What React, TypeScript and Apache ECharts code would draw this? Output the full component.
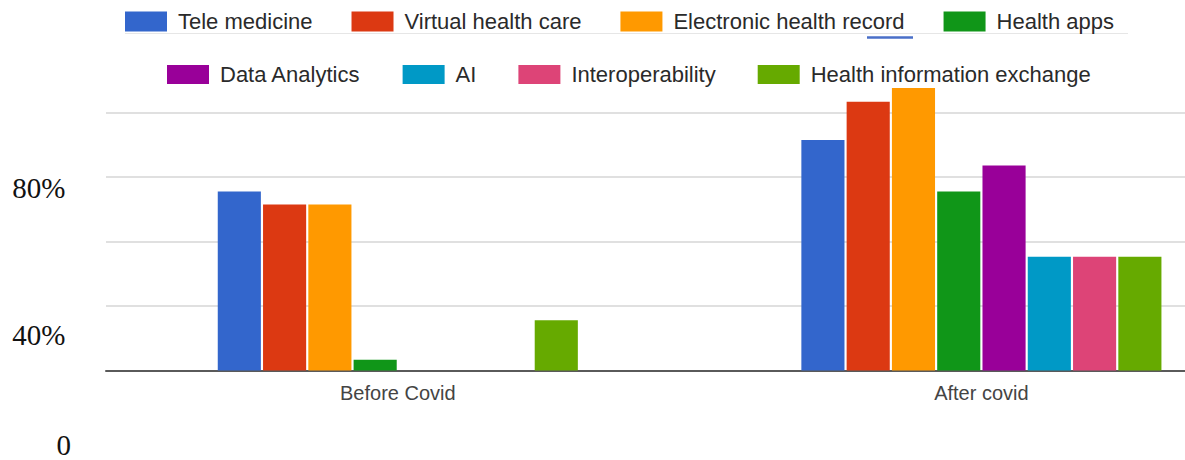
import React, { useEffect, useRef } from "react";
import * as echarts from "echarts";

// Survey shares of digital-health adoption, before and after Covid
const categories = ["Before Covid", "After covid"];

const teleMedicine = [55.5, 71.5];
const virtualHealthCare = [51.5, 83.3];
const electronicHealthRecord = [51.5, 87.6];
const healthApps = [3.3, 55.5];
const dataAnalytics = [0, 63.6];
const ai = [0, 35.3];
const interoperability = [0, 35.3];
const healthInformationExchange = [15.6, 35.3];

const seriesNames = [
  "Tele medicine",
  "Virtual health care",
  "Electronic health record",
  "Health apps",
  "Data Analytics",
  "AI",
  "Interoperability",
  "Health information exchange",
];

const seriesColors = [
  "#3366cc",
  "#dc3912",
  "#ff9900",
  "#109618",
  "#990099",
  "#0099c6",
  "#dd4477",
  "#66aa00",
];

const seriesValues = [
  teleMedicine,
  virtualHealthCare,
  electronicHealthRecord,
  healthApps,
  dataAnalytics,
  ai,
  interoperability,
  healthInformationExchange,
];

// Hand-placed scale captions on the left
const yLabels = ["80%", "40%", "0"];

const SANS = "'Liberation Sans', Arial, Helvetica, sans-serif";
const SERIF = "'Liberation Serif', 'Times New Roman', serif";

// The plot runs past the right edge of the visible frame
const VIEW_W = 1185;
const VIEW_H = 460;
const CANVAS_W = 1280;

export default function App() {
  const ref = useRef<HTMLDivElement>(null);

  useEffect(() => {
    if (!ref.current) return;
    const chart = echarts.init(ref.current, undefined, { renderer: "svg" });

    const legendText = {
      fontSize: 22,
      fontFamily: SANS,
      color: "#2a2a2a",
      padding: [0, 0, 0, 6],
    };

    const captionPos = [
      { x: 65.5, y: 188 },
      { x: 65.5, y: 335 },
      { x: 71, y: 445 },
    ];

    chart.setOption({
      animation: false,
      backgroundColor: "#ffffff",
      legend: [
        {
          data: seriesNames.slice(0, 4),
          left: 125,
          top: 10.5,
          padding: 0,
          icon: "rect",
          itemWidth: 42,
          itemHeight: 20,
          itemGap: 39,
          textStyle: legendText,
          selectedMode: false,
        },
        {
          data: seriesNames.slice(4),
          left: 167,
          top: 63.5,
          padding: 0,
          icon: "rect",
          itemWidth: 42,
          itemHeight: 19,
          itemGap: 42,
          textStyle: legendText,
          selectedMode: false,
        },
      ],
      grid: {
        left: 106,
        right: CANVAS_W - 1273.2,
        top: 80.25,
        bottom: 89.5,
        containLabel: false,
      },
      xAxis: {
        type: "category",
        data: categories,
        axisTick: { show: false },
        axisLine: { show: true, lineStyle: { color: "#5a5a5a", width: 2 } },
        axisLabel: {
          fontSize: 20,
          fontFamily: SANS,
          color: "#444444",
          margin: 12,
        },
      },
      yAxis: {
        type: "value",
        min: 0,
        max: 90,
        interval: 20,
        axisLine: { show: false },
        axisTick: { show: false },
        axisLabel: { show: false },
        splitLine: {
          show: true,
          showMinLine: false,
          showMaxLine: false,
          lineStyle: { color: "#e0e0e0", width: 2 },
        },
      },
      series: seriesNames.map((name, i) => ({
        name,
        type: "bar",
        data: seriesValues[i],
        barGap: "5%",
        barCategoryGap: "38.3%",
        itemStyle: { color: seriesColors[i] },
      })),
      graphic: [
        ...yLabels.map((t, i) => ({
          type: "text",
          x: captionPos[i].x,
          y: captionPos[i].y,
          style: {
            text: t,
            fill: "#111111",
            fontSize: 29,
            fontFamily: SERIF,
            textAlign: "right",
            textVerticalAlign: "middle",
          },
        })),
        {
          type: "line",
          shape: { x1: 125, y1: 33.5, x2: 1128, y2: 33.5 },
          style: { stroke: "#e6e6e6", lineWidth: 1 },
        },
        {
          type: "line",
          shape: { x1: 867, y1: 37.5, x2: 913, y2: 37.5 },
          style: { stroke: "#4a6fc8", lineWidth: 2.5 },
        },
      ],
    });

    return () => chart.dispose();
  }, []);

  return (
    <div
      style={{
        position: "absolute",
        left: 0,
        top: 0,
        width: VIEW_W,
        height: VIEW_H,
        overflow: "hidden",
        background: "#ffffff",
      }}
    >
      <div ref={ref} style={{ width: CANVAS_W, height: VIEW_H }} />
    </div>
  );
}
